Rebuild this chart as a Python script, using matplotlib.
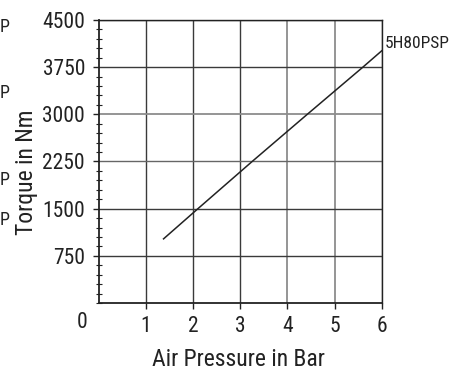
import matplotlib
matplotlib.use("Agg")
import matplotlib.pyplot as plt
from matplotlib.ticker import MultipleLocator

plt.rcParams['font.family'] = ['Roboto Condensed', 'DejaVu Sans']

# Data
pressure = [1.37, 2.1, 3.25, 4.42, 5.6, 6.0]
torque = [1020, 1500, 2250, 3000, 3750, 4010]
series_label = "5H80PSP"
x_ticks = [1, 2, 3, 4, 5, 6]
y_ticks = [750, 1500, 2250, 3000, 3750, 4500]
x_label = "Air Pressure in Bar"
y_label = "Torque in Nm"

fig = plt.figure(figsize=(4.68, 3.70), dpi=100)
ax = fig.add_axes([99/468, 67/370, (381.7-99)/468, (303-20)/370])

ax.set_xlim(0, 6)
ax.set_ylim(0, 4500)
ax.set_xticks(x_ticks)
ax.set_yticks(y_ticks)
ax.yaxis.set_minor_locator(MultipleLocator(150))
ax.grid(True, which='major', color='#3a3a3a', linewidth=1.0)
ax.set_axisbelow(True)

# the scanned original shows some grid lines lighter
xgl = ax.get_xgridlines()
for i in (3, 4):
    xgl[i].set_color('#8c8c8c')
    xgl[i].set_linewidth(1.3)
ygl = ax.get_ygridlines()
ygl[3].set_color('#8c8c8c')
ygl[3].set_linewidth(1.3)
ygl[2].set_color('#666666')

for s in ax.spines.values():
    s.set_color('#222222')
    s.set_linewidth(1.0)
ax.spines['left'].set_linewidth(1.3)
ax.spines['bottom'].set_linewidth(1.3)

ax.tick_params(axis='both', which='major', direction='out', length=4, width=1,
               labelsize=15.5, colors='#222222', labelcolor='#222222')
ax.tick_params(axis='x', pad=5)
ax.tick_params(axis='y', pad=6)
ax.tick_params(axis='y', which='minor', direction='inout', length=4, width=0.8, colors='#222222')

ax.plot(pressure, torque, color='#222222', linewidth=1.1)

ax.text(6.06, 4130, series_label, fontsize=12.5, color='#222222', va='center', ha='left', clip_on=False)

ax.annotate("0", xy=(0, 0), xytext=(-12.2, -13.8), textcoords='offset points',
            ha='center', va='center', fontsize=15.5, color='#222222', annotation_clip=False)

ax.set_xlabel(x_label, fontsize=17, color='#222222', va='center')
ax.xaxis.set_label_coords((238.5-99)/282.7, (303-359)/283)
ax.set_ylabel(y_label, fontsize=17, color='#222222', va='center')
ax.yaxis.set_label_coords((27-99)/282.7, (303-172)/283)

# partially visible labels from the neighbouring chart on the left edge
for ypx in [26.5, 93.5, 180, 220]:
    fig.text(0/468, 1 - ypx/370, "P", fontsize=13, color='#222222', ha='left', va='center')

fig.savefig("out.png", dpi=100)
